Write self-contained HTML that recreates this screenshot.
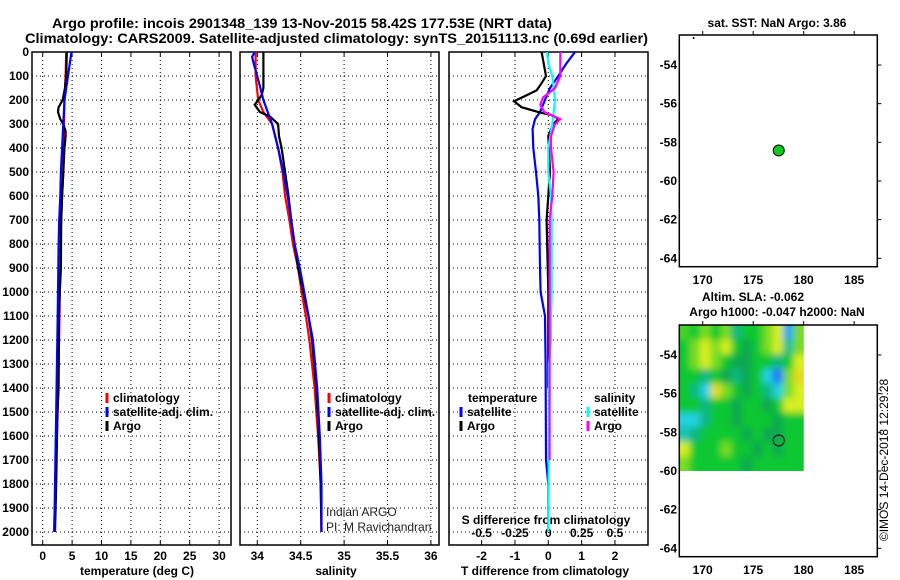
<!DOCTYPE html>
<html><head><meta charset="utf-8">
<style>
html,body{margin:0;padding:0;background:#fff;}
svg{display:block;font-family:"Liberation Sans",sans-serif;}
.b{font-weight:bold;font-size:12px;fill:#000;}
.t{font-weight:bold;font-size:14px;fill:#000;}
.grid{stroke:#000;stroke-width:1;stroke-dasharray:1 3;}
</style></head>
<body>
<svg id="chart" width="900" height="580" viewBox="0 0 900 580" xmlns="http://www.w3.org/2000/svg">
<text class="t" x="52" y="28" textLength="500" lengthAdjust="spacingAndGlyphs">Argo profile: incois 2901348_139 13-Nov-2015 58.42S 177.53E (NRT data)</text>
<text class="t" x="25" y="43" textLength="623" lengthAdjust="spacingAndGlyphs">Climatology: CARS2009. Satellite-adjusted climatology: synTS_20151113.nc (0.69d earlier)</text>
<g id="layer"></g>
</svg>
<script>
// ---------- data ----------
const depthTicks = [0,100,200,300,400,500,600,700,800,900,1000,1100,1200,1300,1400,1500,1600,1700,1800,1900,2000];
const tTicks = [0,5,10,15,20,25,30];
const sTicks = [34,34.5,35,35.5,36];
const sTickLabels = ["34","34.5","35","35.5","36"];
const dTicks = [-2,-1,0,1,2];
const dsTicks = [-0.5,-0.25,0,0.25,0.5];
const dsTickLabels = ["-0.5","-0.25","0","0.25","0.5"];

const tempArgoDepth = [0,100,150,200,230,250,280,300,330,350,400,500,600,700,900,1000,1100,1400,1500,1800,2000];
const tempArgo      = [4.1,4.0,3.8,3.4,2.7,2.6,3.0,3.5,3.9,3.9,3.7,3.5,3.3,3.15,3.1,2.9,2.75,2.7,2.5,2.3,2.1];
const tempClimDepth = [0,100,200,300,400,500,600,800,1100,1450,1700,2000];
const tempClim      = [4.0,3.9,3.7,3.6,3.55,3.5,3.3,3.0,2.85,2.6,2.3,1.9];
const tempSatDepth  = [0,50,100,200,300,400,500,600,700,800,1000,1100,1500,1800,2000];
const tempSat       = [4.9,4.6,4.3,3.7,3.5,3.3,3.1,3.0,2.8,2.7,2.6,2.55,2.3,2.1,2.0];

const salArgoDepth = [0,150,180,220,250,270,300,350,400,500,600,700,800,900,1000,1100,1200,1400,1600,1800,2000];
const salArgo      = [34.07,34.07,34.05,33.97,34.03,34.15,34.24,34.25,34.28,34.32,34.36,34.39,34.43,34.47,34.53,34.59,34.63,34.68,34.71,34.73,34.74];
const salClimDepth = [0,100,200,250,300,400,500,600,700,800,900,1000,1100,1200,1300,1400,1600,1800,2000];
const salClim      = [33.98,33.98,34.01,34.07,34.17,34.24,34.29,34.32,34.37,34.41,34.47,34.51,34.56,34.6,34.63,34.66,34.7,34.73,34.74];
const salSatDepth  = [0,20,50,100,200,250,300,400,500,600,700,800,900,1000,1100,1200,1400,1600,1800,2000];
const salSat       = [33.97,33.94,33.96,34.0,34.07,34.12,34.17,34.24,34.3,34.35,34.39,34.43,34.49,34.54,34.59,34.64,34.69,34.72,34.74,34.74];

const dTArgoDepth = [0,100,130,160,180,205,230,250,265,280,300,350,500,700,1000,1400];
const dTArgo      = [-0.2,-0.07,-0.2,-0.35,-0.65,-1.03,-0.8,-0.3,0.15,0.3,0.15,0.0,0.05,-0.05,0.0,0.0];
const dTSatDepth  = [0,50,100,150,200,250,280,320,400,500,600,700,900,1000,1100,1300,1700,1800,2000];
const dTSat       = [0.8,0.53,0.3,0.05,-0.1,-0.25,-0.4,-0.47,-0.45,-0.37,-0.3,-0.27,-0.25,-0.23,-0.1,-0.08,-0.07,0.0,0.0];
const dSSatDepth  = [0,50,100,200,300,400,500,600,700,1000,1100,1200,1300,1500,2000];
const dSSat       = [-0.01,0.0,0.03,0.05,0.03,0.0,0.0,0.02,0.025,0.025,0.02,0.02,0.005,0.005,0.0];
const dSArgoDepth = [0,100,150,190,220,250,280,300,350,400,500,600,700,1000,1300,1700];
const dSArgo      = [0.09,0.09,0.05,-0.04,-0.06,-0.03,0.09,0.05,0.02,0.02,0.04,0.03,0.01,0.01,0.01,0.01];

const lonTicks = [170,175,180,185];
const latTicks = [-54,-56,-58,-60,-62,-64];
const argoLon = [177.53];
const argoLat = [-58.42];
// SLA grid rows (north to south), cols lon 167.7..180
const slaRows = [
 [0.05,0,0.1,0,0.1,-0.1,0,0,0.1,0.2,-0.25,0.1],
 [0,0.1,0.2,0.1,0.2,0,-0.05,0,0.1,0.2,-0.12,0.1],
 [0,0.1,0.2,0.1,0,-0.05,-0.05,0,0,-0.1,0,0.2],
 [0,0,-0.1,0,-0.05,-0.1,-0.05,0,-0.2,-0.3,0.1,0.25],
 [0,-0.1,-0.2,0.25,0.1,0,-0.05,0,-0.1,-0.2,0.1,0.2],
 [0,0,-0.1,0,0,-0.05,0,0,-0.05,0,0.2,0.2],
 [-0.2,-0.2,-0.1,0,0,-0.05,0,0,0,-0.05,0,0],
 [-0.15,-0.1,0,0,0,0,-0.05,0,-0.05,-0.05,0,0],
 [0.2,0,0,0,0.1,0,0,-0.05,0,-0.05,0,0],
 [0.1,0,0,0,0,0,-0.05,0,0,0,0,0]
];

// ---------- geometry ----------
const NS = "http://www.w3.org/2000/svg";
const layer = document.getElementById('layer');
const TOP = 52, BOT = 545;
const yD = d => TOP + d * 0.24;
const panels = [
  {x0:32, x1:231, scale: v => 42.7 + 5.88*v},
  {x0:240, x1:439, scale: v => 257.3 + 86.8*(v-34)},
  {x0:449, x1:648, scale: v => 548.3 + 33.33*v}
];
const sDiffX = v => 548.3 + 133.33*v;
function mk(tag, attrs, parent){
  const e = document.createElementNS(NS, tag);
  for (const k in attrs) e.setAttribute(k, attrs[k]);
  (parent||layer).appendChild(e);
  return e;
}
function txt(x,y,s,anchor,cls){
  const e = mk('text',{x:x,y:y,'text-anchor':anchor||'middle','class':cls||'b','dominant-baseline':'central'});
  e.textContent = s;
  return e;
}

panels.forEach((p,i)=>{
  const g = mk('g',{});
  
  
  depthTicks.forEach(d=>{
    const l = mk('line',{x1:p.x0,x2:p.x1,y1:yD(d),y2:yD(d),'class':'grid'},g);
    
    
  });
  const xs = i===0 ? tTicks : (i===1 ? sTicks : dTicks);
  xs.forEach(v=>{
    const x = p.scale(v);
    const l = mk('line',{x1:x,x2:x,y1:TOP,y2:BOT,'class':'grid'},g);
    
    
    mk('line',{x1:x,x2:x,y1:TOP,y2:TOP+4,stroke:'#000'},g);
    mk('line',{x1:x,x2:x,y1:BOT,y2:BOT-4,stroke:'#000'},g);
  });
  const r = mk('rect',{x:p.x0,y:TOP,width:p.x1-p.x0,height:BOT-TOP,fill:'none',stroke:'#000','stroke-width':1.5},g);
  
  
});

depthTicks.forEach(d=>{
  const t = txt(29, yD(d), String(d), 'end');
  
  
});
tTicks.forEach(v=>{
  const t = txt(panels[0].scale(v), 556, String(v));
  
  
});
sTicks.forEach((v,i)=>{
  const t = txt(panels[1].scale(v), 556, sTickLabels[i]);
  
  
});
dTicks.forEach(v=>{
  const t = txt(panels[2].scale(v), 556, String(v));
  
  
});
dsTicks.forEach((v,i)=>{
  const t = txt(sDiffX(v), 533, dsTickLabels[i]);
  
  
});
let at;
at = txt(137, 571, 'temperature (deg C)');


at = txt(336, 571, 'salinity');


at = txt(545, 571, 'T difference from climatology');


at = txt(546, 520, 'S difference from climatology');



function series(xf, vals, depths, color, name){
  const pts = vals.map((v,i)=> xf(v).toFixed(1)+','+yD(depths[i]).toFixed(1)).join(' ');
  const pl = mk('polyline',{points:pts,fill:'none',stroke:color,'stroke-width':2.2,'stroke-linejoin':'miter'});
  
  
}
series(panels[0].scale, tempClim, tempClimDepth, '#ff0000', 'temperature-climatology-line');
series(panels[0].scale, tempArgo, tempArgoDepth, '#000000', 'temperature-argo-line');
series(panels[0].scale, tempSat, tempSatDepth, '#0000ff', 'temperature-satellite-line');
series(panels[1].scale, salClim, salClimDepth, '#ff0000', 'salinity-climatology-line');
series(panels[1].scale, salArgo, salArgoDepth, '#000000', 'salinity-argo-line');
series(panels[1].scale, salSat, salSatDepth, '#0000ff', 'salinity-satellite-line');
series(panels[2].scale, dTSat, dTSatDepth, '#0000ff', 't-diff-satellite-line');
series(panels[2].scale, dTArgo, dTArgoDepth, '#000000', 't-diff-argo-line');
series(sDiffX, dSSat, dSSatDepth, '#00ffff', 's-diff-satellite-line');
series(sDiffX, dSArgo, dSArgoDepth, '#ff00ff', 's-diff-argo-line');

function legend(x, y, color, label){
  const g = mk('g',{});
  
  
  mk('rect',{x:x-1.5,y:y-5,width:3,height:10,fill:color},g);
  const t = mk('text',{x:x+6,y:y,'class':'b','dominant-baseline':'central'},g);
  t.textContent = label;
}
legend(107,398,'#ff0000','climatology');
legend(107,412,'#0000ff','satellite-adj. clim.');
legend(107,426,'#000000','Argo');
legend(329,398,'#ff0000','climatology');
legend(329,412,'#0000ff','satellite-adj. clim.');
legend(329,426,'#000000','Argo');
let lt = txt(468,398,'temperature','start');


legend(461,412,'#0000ff','satellite');
legend(461,426,'#000000','Argo');
lt = txt(594,398,'salinity','start');


legend(588,412,'#00ffff','satellite');
legend(588,426,'#ff00ff','Argo');
let credit = mk('text',{x:326,y:512,'font-size':12,fill:'#222','dominant-baseline':'central'});
credit.textContent = 'Indian ARGO';


credit = mk('text',{x:326,y:527,'font-size':12,fill:'#222','dominant-baseline':'central'});
credit.textContent = 'PI: M Ravichandran';



// ---------- maps ----------
const MX0 = 679.3, MX1 = 877.3;
const lonX = lon => 702.7 + (lon-170)*10.1;
function mapPanel(oy, name){
  const latY = lat => oy + 65 + (-54 - lat)*19.33;
  const g = mk('g',{});
  
  
  return {g, latY, top: oy+35, bot: oy+266.7};
}
function mapFrame(m, oy){
  mk('rect',{x:MX0,y:m.top,width:MX1-MX0,height:m.bot-m.top,fill:'none',stroke:'#000','stroke-width':1.5},m.g);
  lonTicks.forEach(v=>{
    const x = lonX(v);
    mk('line',{x1:x,x2:x,y1:m.top,y2:m.top-4,stroke:'#000'},m.g);
    const t = txt(x, oy+280, String(v));
    
    
  });
  latTicks.forEach(v=>{
    const y = m.latY(v);
    mk('line',{x1:MX1,x2:MX1+4,y1:y,y2:y,stroke:'#000'},m.g);
    const t = txt(677, y, String(v), 'end');
    
    
  });
}
const m1 = mapPanel(0, 'sst-map');
mk('circle',{cx:lonX(argoLon[0]),cy:m1.latY(argoLat[0]),r:5.5,fill:'#10c820',stroke:'#000','stroke-width':1},m1.g);
mk('circle',{cx:lonX(169.1),cy:m1.latY(-52.6),r:1,fill:'#000'},m1.g);
mapFrame(m1, 0);
let mt = txt(777, 23, 'sat. SST: NaN Argo: 3.86');



const m2 = mapPanel(290, 'sla-map');
const stops = [[-0.3,[30,120,255]],[-0.2,[32,208,224]],[-0.1,[16,184,128]],[-0.05,[16,168,80]],[0,[16,200,48]],[0.1,[120,220,32]],[0.2,[215,238,32]],[0.3,[240,200,32]]];
function cmap(v){
  if (v<=stops[0][0]) return 'rgb('+stops[0][1]+')';
  for (let i=1;i<stops.length;i++){
    if (v<=stops[i][0]){
      const f=(v-stops[i-1][0])/(stops[i][0]-stops[i-1][0]);
      const c=stops[i-1][1].map((a,k)=>Math.round(a+(stops[i][1][k]-a)*f));
      return 'rgb('+c+')';
    }
  }
  return 'rgb('+stops[stops.length-1][1]+')';
}
const defs = mk('defs',{});
const clip = mk('clipPath',{id:'hmclip'},defs);
const hx0 = lonX(167.7), hx1 = lonX(180), hy0 = m2.latY(-52.45), hy1 = m2.latY(-60);
mk('rect',{x:hx0,y:hy0,width:hx1-hx0,height:hy1-hy0},clip);
const flt = mk('filter',{id:'blur',x:'-10%',y:'-10%',width:'120%',height:'120%'},defs);
mk('feGaussianBlur',{stdDeviation:3.5},flt);
const hm = mk('g',{'clip-path':'url(#hmclip)'},m2.g);


mk('rect',{x:hx0,y:hy0,width:hx1-hx0,height:hy1-hy0,fill:cmap(0)},hm);
const hg = mk('g',{filter:'url(#blur)'},hm);
const nR = slaRows.length, nC = slaRows[0].length;
const cw = (180-167.7)/nC, chh = (60-52.45)/nR;
slaRows.forEach((row,r)=>{
  row.forEach((v,c)=>{
    const xa = lonX(167.7 + c*cw), xb = lonX(167.7+(c+1)*cw);
    const ya = m2.latY(-52.45 - r*chh), yb = m2.latY(-52.45-(r+1)*chh);
    const pad = (c===0||c===nC-1||r===0||r===nR-1) ? 8 : 0;
    const cell = mk('rect',{x:xa-(c===0?pad:0),y:ya-(r===0?pad:0),width:xb-xa+(c===0||c===nC-1?pad:0)+0.5,height:yb-ya+(r===0||r===nR-1?pad:0)+0.5,fill:cmap(v)},hg);
    
    
  });
});
mk('circle',{cx:lonX(argoLon[0]),cy:m2.latY(argoLat[0]),r:5.5,fill:'none',stroke:'#000','stroke-width':1},m2.g);
mapFrame(m2, 290);
mt = txt(753, 297, 'Altim. SLA: -0.062');


mt = txt(777, 312, 'Argo h1000: -0.047 h2000: NaN');


const stamp = mk('text',{x:0,y:0,'font-size':12,fill:'#000','text-anchor':'middle','dominant-baseline':'central',transform:'translate(884,460) rotate(-90)'});
stamp.textContent = '©IMOS 14-Dec-2018 12:29:28';


</script>
</body></html>
